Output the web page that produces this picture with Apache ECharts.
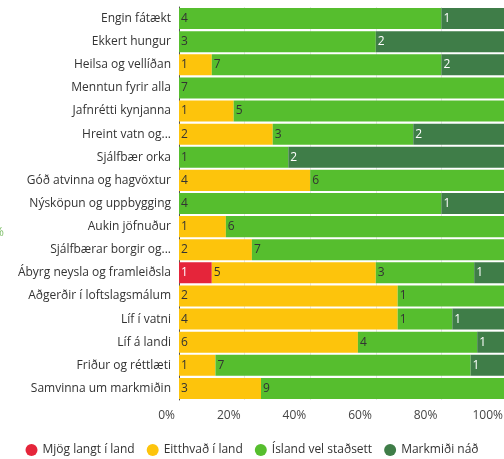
<!DOCTYPE html>
<html>
<head>
    <meta charset="utf-8">
    <script src="https://cdn.jsdelivr.net/npm/echarts@6/dist/echarts.min.js"></script>
    <style>
        html, body { margin: 0; padding: 0; background: #fff; }
    </style>
</head>
<body>
<div id="chart" style="width:504px;height:459px"></div>
<script type="text/javascript">
    // heimsmarkmið
    var categories = [
        'Engin fátækt', 'Ekkert hungur', 'Heilsa og vellíðan', 'Menntun fyrir alla',
        'Jafnrétti kynjanna', 'Hreint vatn og...', 'Sjálfbær orka', 'Góð atvinna og hagvöxtur',
        'Nýsköpun og uppbygging', 'Aukin jöfnuður', 'Sjálfbærar borgir og...',
        'Ábyrg neysla og framleiðsla', 'Aðgerðir í loftslagsmálum', 'Líf í vatni',
        'Líf á landi', 'Friður og réttlæti', 'Samvinna um markmiðin'
    ];
    var seriesNames = ['Mjög langt í land', 'Eitthvað í land', 'Ísland vel staðsett', 'Markmiði náð'];
    var mjogLangt  = [0, 0, 0, 0, 0, 0, 0, 0, 0, 0, 0, 1, 0, 0, 0, 0, 0];
    var eitthvad   = [0, 0, 1, 0, 1, 2, 0, 4, 0, 1, 2, 5, 2, 4, 6, 1, 3];
    var velStadsett = [4, 3, 7, 7, 5, 3, 1, 6, 4, 6, 7, 3, 1, 1, 4, 7, 9];
    var nad        = [1, 2, 2, 0, 0, 2, 2, 0, 1, 0, 0, 1, 0, 1, 1, 1, 0];
    var xTicks = [0, 20, 40, 60, 80, 100];

    var colors = ['#e5253a', '#fdc40c', '#56be2e', '#3f7d48'];
    var labelColors = ['#fff', '#333', '#333', '#fff'];
    var counts = [mjogLangt, eitthvad, velStadsett, nad];

    var totals = categories.map(function(c, i) {
        return mjogLangt[i] + eitthvad[i] + velStadsett[i] + nad[i];
    });

    var series = counts.map(function(arr, s) {
        return {
            name: seriesNames[s],
            type: 'bar',
            stack: 'all',
            barCategoryGap: '9%',
            itemStyle: { color: colors[s] },
            label: {
                show: true,
                position: 'insideLeft',
                distance: 2,
                color: labelColors[s],
                fontSize: 12,
                fontFamily: 'Open Sans',
                formatter: function(p) {
                    var v = arr[p.dataIndex];
                    return v ? String(v) : '';
                }
            },
            data: arr.map(function(v, i) { return v / totals[i] * 100; })
        };
    });

    var chart = echarts.init(document.getElementById('chart'));
    chart.setOption({
        animation: false,
        textStyle: { fontFamily: 'Open Sans' },
        legend: {
            bottom: -2,
            left: 'center',
            icon: 'circle',
            itemWidth: 12,
            itemHeight: 12,
            itemGap: 12,
            textStyle: { color: '#333', fontSize: 12 },
            data: seriesNames
        },
        // afgangur af öðru grafi vinstra megin
        graphic: [{
            type: 'text',
            left: -6,
            top: 227,
            style: { text: '%', fill: '#7fbf6a', fontSize: 12, fontFamily: 'Open Sans' }
        }],
        grid: { left: 179, right: -3, top: 7, bottom: 59, outerBoundsMode: 'none' },
        xAxis: {
            type: 'value',
            min: 0,
            max: 100,
            interval: 20,
            axisLine: { show: false },
            axisTick: { show: false },
            splitLine: { show: true, lineStyle: { color: '#e6e6e6' } },
            axisLabel: {
                color: '#444',
                fontSize: 12,
                align: 'right',
                margin: 10,
                padding: [0, 4, 0, 0],
                formatter: function(v) { return xTicks.indexOf(v) >= 0 ? v + '%' : ''; }
            }
        },
        yAxis: {
            type: 'category',
            inverse: true,
            data: categories,
            axisLine: { show: true, lineStyle: { color: '#555' } },
            axisTick: { show: false },
            axisLabel: { color: '#333', fontSize: 12, margin: 8 }
        },
        series: series
    });
</script>
</body>
</html>
